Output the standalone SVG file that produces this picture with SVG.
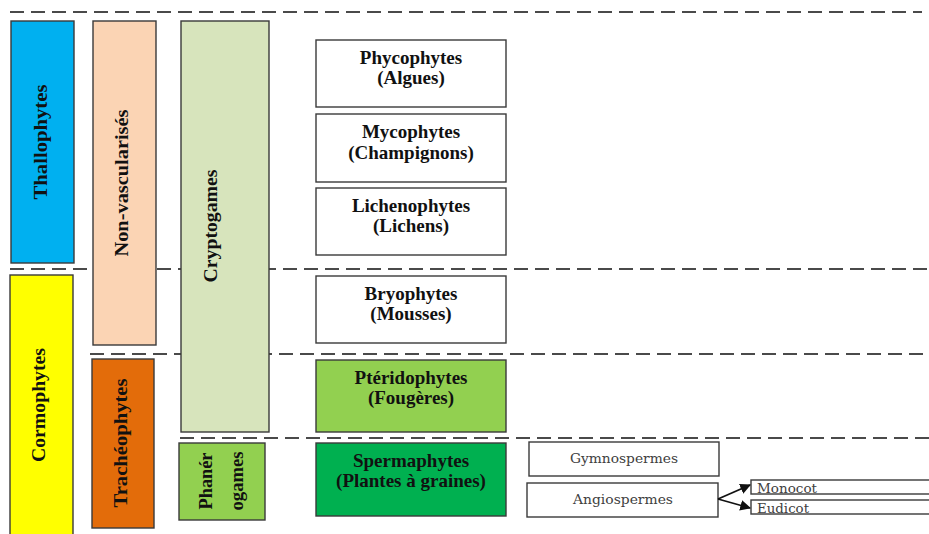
<svg xmlns="http://www.w3.org/2000/svg" width="929" height="534" viewBox="0 0 929 534">
  <style>
    .sep { stroke: #4a4a4a; stroke-width: 2.2; stroke-dasharray: 14 7; fill: none; }
    .box { stroke: #3a3a3a; stroke-width: 1.4; }
    .lbl { font-family: "Liberation Serif", "Times New Roman", serif; font-weight: bold; font-size: 19px; fill: #111; text-anchor: middle; }
    .vlbl { font-family: "Liberation Serif", "Times New Roman", serif; font-weight: bold; font-size: 19px; fill: #111; text-anchor: middle; dominant-baseline: central; }
    .sub { font-family: "DejaVu Serif", "Liberation Serif", serif; font-size: 13px; fill: #404040; }
    .arrow { stroke: #111; stroke-width: 1.8; fill: none; marker-end: url(#head); }
  </style>
  <defs>
    <marker id="head" viewBox="0 0 10 10" refX="9" refY="5" markerWidth="6" markerHeight="6" orient="auto" markerUnits="strokeWidth">
      <path d="M0,0 L10,5 L0,10 z" fill="#111"/>
    </marker>
  </defs>
  <rect width="929" height="534" fill="#ffffff"/>

  <!-- level separators -->
  <g id="separators">
    <line class="sep" x1="10" y1="12" x2="922" y2="12"/>
    <line class="sep" x1="10" y1="269" x2="929" y2="269"/>
    <line class="sep" x1="90" y1="354" x2="929" y2="354"/>
    <line class="sep" x1="180" y1="438" x2="929" y2="438"/>
  </g>

  <!-- vertical groupings -->
  <g id="thallophytes">
    <rect class="box" x="11" y="21" width="63" height="242" fill="#00B0F0"/>
    <text class="vlbl" transform="translate(40,142) rotate(-90)" textLength="115" lengthAdjust="spacingAndGlyphs">Thallophytes</text>
  </g>
  <g id="cormophytes">
    <rect class="box" x="10" y="275" width="63" height="265" fill="#FFFF00"/>
    <text class="vlbl" transform="translate(38,405) rotate(-90)" textLength="114" lengthAdjust="spacingAndGlyphs">Cormophytes</text>
  </g>
  <g id="non-vascularises">
    <rect class="box" x="93" y="21" width="63" height="324" fill="#FBD4B4"/>
    <text class="vlbl" transform="translate(121,183) rotate(-90)" textLength="147" lengthAdjust="spacingAndGlyphs">Non-vascularisés</text>
  </g>
  <g id="tracheophytes">
    <rect class="box" x="92" y="359" width="62" height="169" fill="#E36C0A"/>
    <text class="vlbl" transform="translate(120,443) rotate(-90)" textLength="129" lengthAdjust="spacingAndGlyphs">Trachéophytes</text>
  </g>
  <g id="cryptogames">
    <rect class="box" x="181" y="21" width="88" height="411" fill="#D7E4BC"/>
    <text class="vlbl" transform="translate(210,226) rotate(-90)" textLength="113" lengthAdjust="spacingAndGlyphs">Cryptogames</text>
  </g>
  <g id="phanerogames">
    <rect class="box" x="179" y="443" width="86" height="77" fill="#92D050"/>
    <text class="vlbl" transform="translate(205,481) rotate(-90)" textLength="57" lengthAdjust="spacingAndGlyphs">Phanér</text>
    <text class="vlbl" transform="translate(236,481) rotate(-90)" textLength="59" lengthAdjust="spacingAndGlyphs">ogames</text>
  </g>

  <!-- taxa -->
  <g id="phycophytes">
    <rect class="box" x="316" y="40" width="190" height="67" fill="#ffffff"/>
    <text class="lbl" x="411" y="64">Phycophytes</text>
    <text class="lbl" x="411" y="84">(Algues)</text>
  </g>
  <g id="mycophytes">
    <rect class="box" x="316" y="114" width="190" height="68" fill="#ffffff"/>
    <text class="lbl" x="411" y="138">Mycophytes</text>
    <text class="lbl" x="411" y="159">(Champignons)</text>
  </g>
  <g id="lichenophytes">
    <rect class="box" x="316" y="188" width="190" height="67" fill="#ffffff"/>
    <text class="lbl" x="411" y="212">Lichenophytes</text>
    <text class="lbl" x="411" y="232">(Lichens)</text>
  </g>
  <g id="bryophytes">
    <rect class="box" x="316" y="276" width="190" height="67" fill="#ffffff"/>
    <text class="lbl" x="411" y="300">Bryophytes</text>
    <text class="lbl" x="411" y="320">(Mousses)</text>
  </g>
  <g id="pteridophytes">
    <rect class="box" x="316" y="360" width="190" height="72" fill="#92D050"/>
    <text class="lbl" x="411" y="384">Ptéridophytes</text>
    <text class="lbl" x="411" y="404">(Fougères)</text>
  </g>
  <g id="spermaphytes">
    <rect class="box" x="316" y="443" width="190" height="73" fill="#00B050"/>
    <text class="lbl" x="411" y="467">Spermaphytes</text>
    <text class="lbl" x="411" y="487">(Plantes à graines)</text>
  </g>
  <g id="gymnospermes">
    <rect class="box" x="529" y="442" width="190" height="34" fill="#ffffff"/>
    <text class="sub" x="624" y="463" text-anchor="middle" textLength="108" lengthAdjust="spacingAndGlyphs">Gymnospermes</text>
  </g>
  <g id="angiospermes">
    <rect class="box" x="527" y="483" width="191" height="34" fill="#ffffff"/>
    <text class="sub" x="623" y="504" text-anchor="middle" textLength="100" lengthAdjust="spacingAndGlyphs">Angiospermes</text>
  </g>
  <g id="monocot">
    <rect class="box" x="751" y="480" width="185" height="14" fill="#ffffff"/>
    <text class="sub" x="757" y="493" textLength="60" lengthAdjust="spacingAndGlyphs">Monocot</text>
  </g>
  <g id="eudicot">
    <rect class="box" x="751" y="500" width="185" height="14" fill="#ffffff"/>
    <text class="sub" x="757" y="513" textLength="52" lengthAdjust="spacingAndGlyphs">Eudicot</text>
  </g>

  <!-- connectors -->
  <g id="connectors">
    <line class="arrow" x1="718" y1="499" x2="750" y2="485"/>
    <line class="arrow" x1="718" y1="499" x2="750" y2="508"/>
  </g>
</svg>
